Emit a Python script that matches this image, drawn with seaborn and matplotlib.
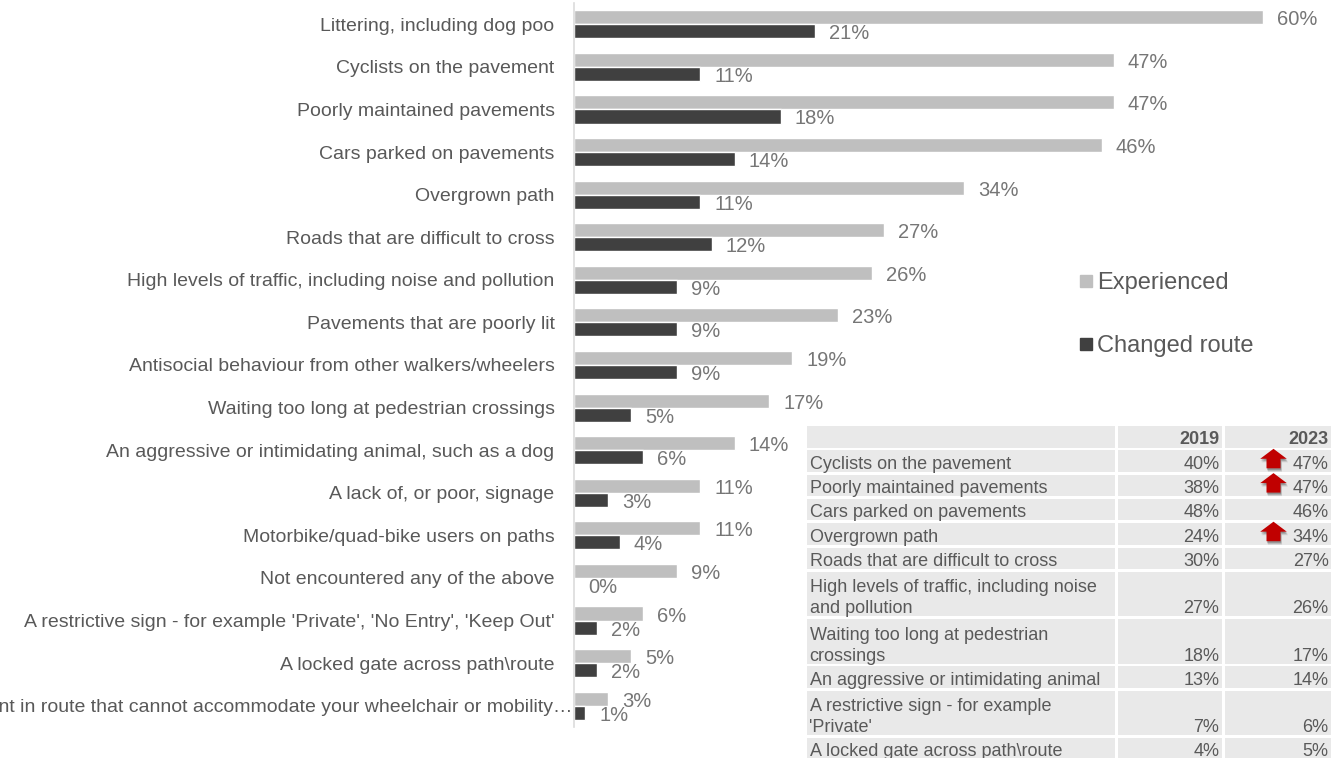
import matplotlib
matplotlib.use("Agg")
import matplotlib.pyplot as plt
from matplotlib.lines import Line2D
from matplotlib.patches import Rectangle, Polygon
import matplotlib.transforms as mtransforms
import seaborn as sns
import pandas as pd

# ---- survey data -------------------------------------------------------
issues = [
    "Littering, including dog poo",
    "Cyclists on the pavement",
    "Poorly maintained pavements",
    "Cars parked on pavements",
    "Overgrown path",
    "Roads that are difficult to cross",
    "High levels of traffic, including noise and pollution",
    "Pavements that are poorly lit",
    "Antisocial behaviour from other walkers/wheelers",
    "Waiting too long at pedestrian crossings",
    "An aggressive or intimidating animal, such as a dog",
    "A lack of, or poor, signage",
    "Motorbike/quad-bike users on paths",
    "Not encountered any of the above",
    "A restrictive sign - for example 'Private', 'No Entry', 'Keep Out'",
    "A locked gate across path\\route",
    "A pinch point in route that cannot accommodate your wheelchair or mobility\u2026",
]
experienced = [60, 47, 47, 46, 34, 27, 26, 23, 19, 17, 14, 11, 11, 9, 6, 5, 3]
changed_route = [21, 11, 18, 14, 11, 12, 9, 9, 9, 5, 6, 3, 4, 0, 2, 2, 1]
series_names = ["Experienced", "Changed route"]

# comparison table 2019 vs 2023
table_labels = [
    "Cyclists on the pavement",
    "Poorly maintained pavements",
    "Cars parked on pavements",
    "Overgrown path",
    "Roads that are difficult to cross",
    "High levels of traffic, including noise\nand pollution",
    "Waiting too long at pedestrian\ncrossings",
    "An aggressive or intimidating animal",
    "A restrictive sign - for example\n'Private'",
    "A locked gate across path\\route",
]
table_2019 = [40, 38, 48, 24, 30, 27, 18, 13, 7, 4]
table_2023 = [47, 47, 46, 34, 27, 26, 17, 14, 6, 5]
table_increase = [True, True, False, True, False, False, False, False, False, False]
table_years = ["2019", "2023"]

# ---- style -------------------------------------------------------------
sns.set_style("white")
plt.rcParams["font.family"] = ["Liberation Sans", "DejaVu Sans"]

GREY = "#bfbfbf"
DARK = "#404040"
TEXT = "#595959"
VALTEXT = "#767676"
CELL = "#e9e9e9"
ARROW = "#c00000"

W, H = 1331, 758
fig = plt.figure(figsize=(W / 100, H / 100), dpi=100)

# main bar axes (pixel geometry)
ax_left, ax_top, ax_bottom = 574, 3, 727
ax = fig.add_axes([ax_left / W, 1 - ax_bottom / H, (W - ax_left) / W, (ax_bottom - ax_top) / H])

df = pd.DataFrame({
    "issue": issues * 2,
    "series": [series_names[0]] * len(issues) + [series_names[1]] * len(issues),
    "pct": experienced + changed_route,
})
sns.barplot(data=df, y="issue", x="pct", hue="series", orient="h",
            palette={series_names[0]: GREY, series_names[1]: DARK},
            width=0.66, saturation=1, legend=False, ax=ax)

px_per_pct = 11.48
ax.set_xlim(0, (W - ax_left) / px_per_pct)
ax.set_xlabel("")
ax.set_ylabel("")
ax.set_xticks([])
ax.tick_params(axis="y", length=0, pad=14, labelsize=14, labelcolor=TEXT)
for side in ["top", "right", "bottom"]:
    ax.spines[side].set_visible(False)
ax.spines["left"].set_color("#dcdcdc")
ax.spines["left"].set_linewidth(1.2)

# the long last label overflows toward the axis
last = ax.get_yticklabels()[-1]
last.set_transform(last.get_transform() + mtransforms.ScaledTranslation(13 / 72, 0, fig.dpi_scale_trans))

# value labels
for container, values in zip(ax.containers, [experienced, changed_route]):
    for patch, v in zip(container.patches, values):
        ax.annotate(f"{v}%", (patch.get_width(), patch.get_y() + patch.get_height() / 2),
                    xytext=(10, -1.8), textcoords="offset points",
                    va="center", ha="left", fontsize=14.5, color=VALTEXT)

# legend
handles = [Line2D([], [], marker="s", linestyle="none", markersize=8.5, color=c)
           for c in (GREY, DARK)]
fig.legend(handles, series_names, loc="upper left",
           bbox_to_anchor=(1078 / W, 1 - 272 / H), frameon=False,
           fontsize=17, labelcolor=TEXT, handlelength=0.7, handletextpad=0.12,
           labelspacing=1.75, borderpad=0, borderaxespad=0)

# ---- comparison table ---------------------------------------------------
t_left, t_top = 807, 426
tab = fig.add_axes([t_left / W, 0, (W - t_left) / W, (H - t_top) / H])
tab.set_xlim(t_left, W)
tab.set_ylim(H, t_top)
tab.axis("off")

cols = [(807, 1115), (1117.5, 1222), (1224.5, 1340)]
row_h1, row_h2, gap = 21.5, 44.5, 2.8

def draw_row(y0, h, texts, weights):
    for (x0, x1), txt, wt, k in zip(cols, texts, weights, range(3)):
        tab.add_patch(Rectangle((x0, y0), x1 - x0, h, facecolor=CELL, edgecolor="none"))
        if k == 0:
            tab.text(x0 + 2.5, y0 + h + 1, txt, ha="left", va="bottom", fontsize=13,
                     color=TEXT, fontweight=wt, linespacing=1.3)
        else:
            tab.text(min(x1, W) - 2.5, y0 + h + 1, txt, ha="right", va="bottom",
                     fontsize=13, color=TEXT, fontweight=wt)

y = t_top
draw_row(y, row_h1, ["", table_years[0], table_years[1]], ["normal", "bold", "bold"])
y += row_h1 + gap
for lab, a, b, up in zip(table_labels, table_2019, table_2023, table_increase):
    h = row_h2 if "\n" in lab else row_h1
    draw_row(y, h, [lab, f"{a}%", f"{b}%"], ["normal"] * 3)
    if up:
        cx, top, bot = 1273.5, y - 1.5, y + h - 3.5
        hw, sw, hh = 13.3, 7, 10
        pts = [(cx - hw, top + hh), (cx, top), (cx + hw, top + hh),
               (cx + sw, top + hh), (cx + sw, bot), (cx - sw, bot), (cx - sw, top + hh)]
        for k, a_ in [(3.5, 0.10), (2.5, 0.15), (1.5, 0.2)]:
            shadow = [(px + k * 0.4, py + k) for px, py in pts]
            tab.add_patch(Polygon(shadow, closed=True, facecolor="#000000", alpha=a_,
                                  edgecolor="none"))
        tab.add_patch(Polygon(pts, closed=True, facecolor=ARROW, edgecolor="none"))
    y += h + gap

fig.savefig("out.png", dpi=100)
